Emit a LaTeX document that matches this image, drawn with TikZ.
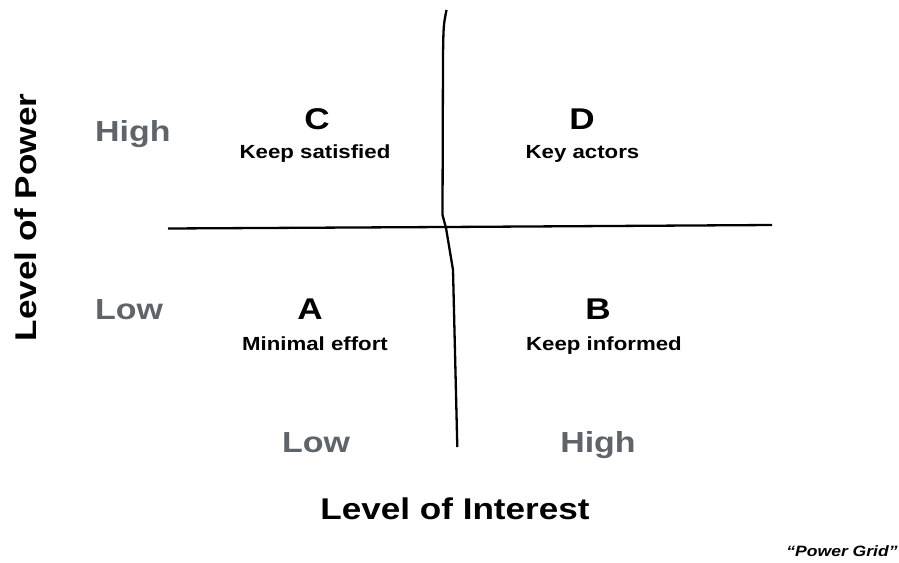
\documentclass[tikz,border=0pt]{standalone}
\usepackage{fontspec}
\setsansfont{Liberation Sans}[FakeStretch=1.17]
\usepackage{xcolor}
\usepackage{tikz}
\usetikzlibrary{positioning}
\tikzset{>=stealth}

\definecolor{levelgray}{RGB}{95,100,107}

\tikzset{
    axistitle/.style = {font=\sffamily\bfseries\fontsize{30}{36}\selectfont, anchor=base, inner sep=0pt},
    levelword/.style = {font=\sffamily\bfseries\fontsize{29}{34}\selectfont, text=levelgray, anchor=base, inner sep=0pt},
    quadletter/.style = {font=\sffamily\bfseries\fontsize{30}{36}\selectfont, anchor=base, inner sep=0pt},
    quadtext/.style = {font=\sffamily\bfseries\fontsize{19}{23}\selectfont, anchor=base, inner sep=0pt},
    gridline/.style = {line width=2.3pt, line join=round}
}

\begin{document}
\begin{tikzpicture}[x=1pt, y=-1pt]
    \useasboundingbox (0,0) rectangle (899,562);

    % the two hand-drawn axes
    \coordinate (vtop) at (446.5,10);
    \coordinate (vbot) at (457.3,447);
    \coordinate (hleft) at (168,228.5);
    \coordinate (hright) at (772,225);
    \draw[gridline] (vtop) .. controls (443.5,25) .. (443,55) -- (442.5,215) -- (446,228) -- (453,270) -- (vbot);
    \draw[gridline] (hleft) -- (445,227) -- (hright);

    % quadrants
    \node[quadletter] (c) at (317,129) {C};
    \node[quadtext] (ctext) at (315,158) {Keep satisfied};
    \node[quadletter] (d) at (582,129) {D};
    \node[quadtext] (dtext) at (582.5,158) {Key actors};
    \node[quadletter] (a) at (310,319) {A};
    \node[quadtext] (atext) at (315,350) {Minimal effort};
    \node[quadletter] (b) at (598,319) {B};
    \node[quadtext] (btext) at (604,350) {Keep informed};

    % levels
    \node[levelword, anchor=base west] (powhigh) at (95,141) {High};
    \node[levelword, anchor=base west] (powlow) at (95,319) {Low};
    \node[levelword] (intlow) at (316,452) {Low};
    \node[levelword] (inthigh) at (598,452) {High};

    % axis titles
    \node[axistitle, rotate=90] (power) at (36,217.5) {Level of Power};
    \node[axistitle] (interest) at (455,519) {Level of Interest};

    \node[font=\sffamily\bfseries\itshape\fontsize{15}{18}\selectfont, anchor=base, inner sep=0pt] (grid) at (842,556) {``Power Grid''};
\end{tikzpicture}
\end{document}
